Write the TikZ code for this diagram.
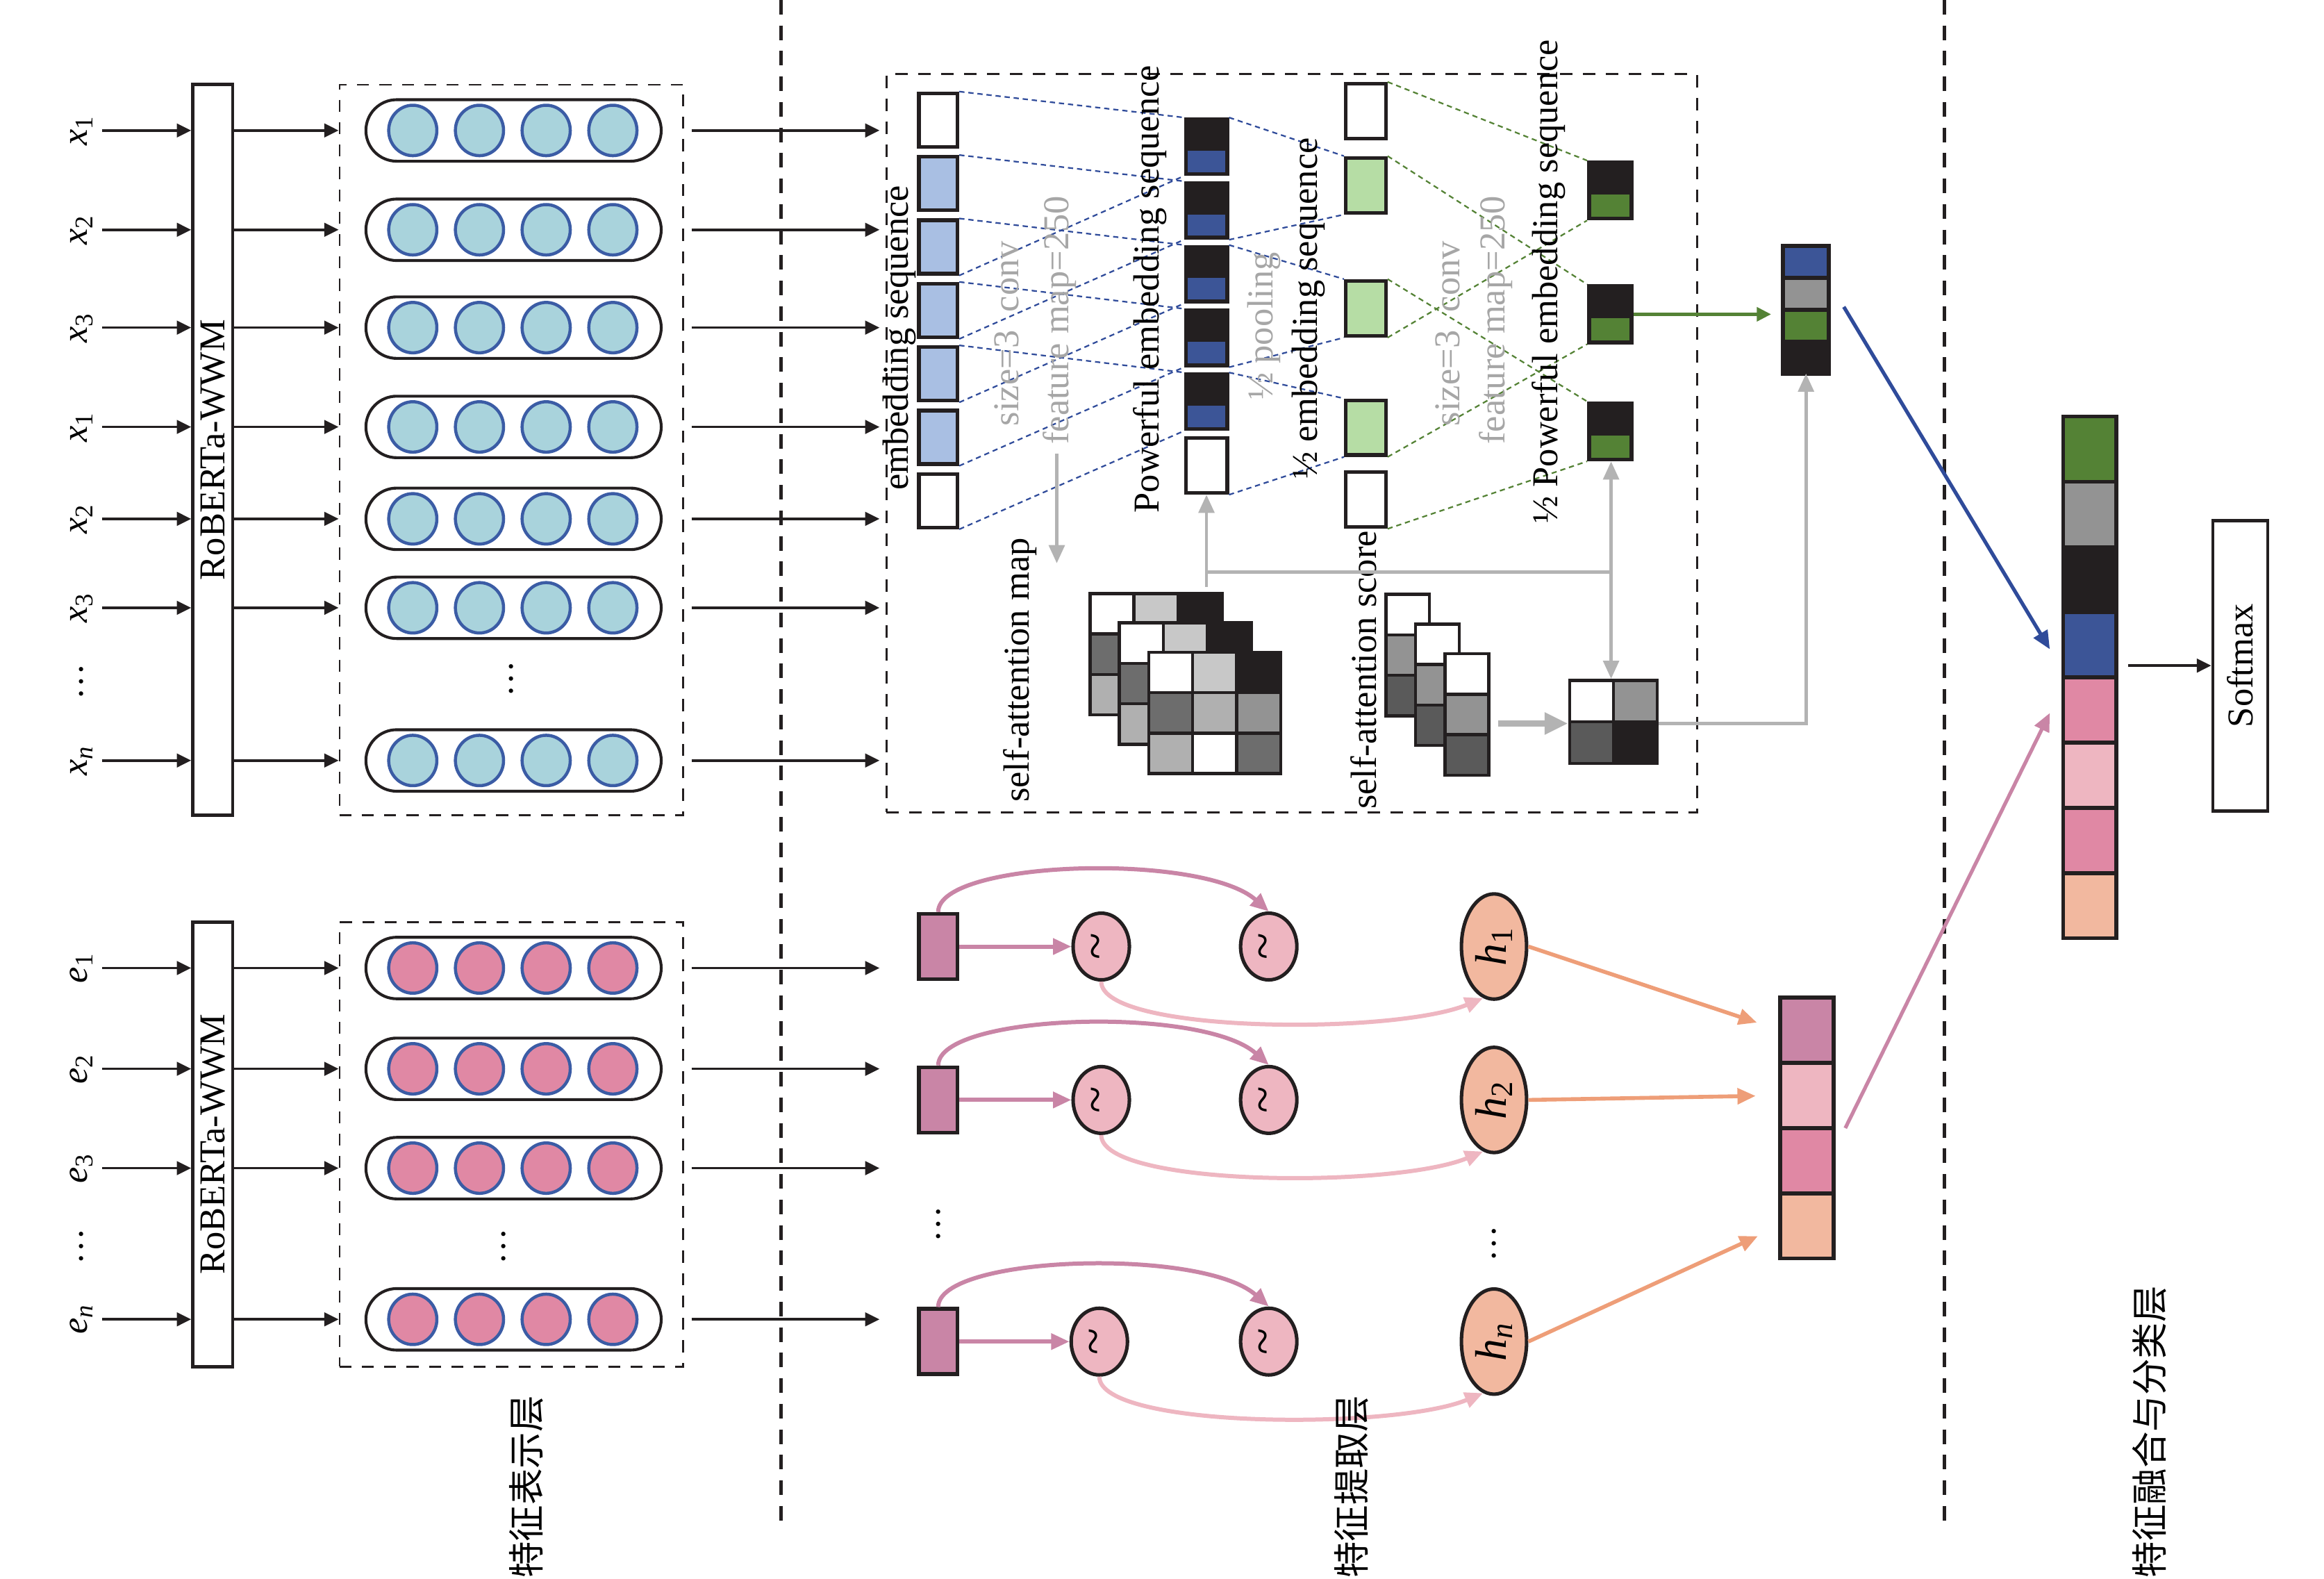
\documentclass[tikz,border=0pt]{standalone}
\usepackage{fontspec}
\setmainfont{Liberation Serif}
\newfontfamily\cjkfont{Noto Sans CJK SC}
\usepackage{tikz}
\usetikzlibrary{positioning,calc,shapes.misc,shapes.geometric,arrows.meta}

% 颜色
\definecolor{ink}{HTML}{231F20}
\definecolor{ballblue}{HTML}{A9D3DC}
\definecolor{ringblue}{HTML}{3B5CA5}
\definecolor{ballpink}{HTML}{E088A4}
\definecolor{seqblue}{HTML}{A9BFE3}
\definecolor{navy}{HTML}{3C5597}
\definecolor{leaf}{HTML}{B6DDA5}
\definecolor{moss}{HTML}{548235}
\definecolor{greyA}{HTML}{C8C8C8}
\definecolor{greyB}{HTML}{B0B0B0}
\definecolor{greyC}{HTML}{939393}
\definecolor{greyD}{HTML}{6D6D6D}
\definecolor{greyE}{HTML}{5A5A5A}
\definecolor{wiregrey}{HTML}{B3B3B3}
\definecolor{notegrey}{HTML}{A6A6A6}
\definecolor{mauve}{HTML}{C985A6}
\definecolor{blush}{HTML}{EEB6C1}
\definecolor{peach}{HTML}{F2B89F}
\definecolor{coral}{HTML}{EE9E78}
\definecolor{arrowblue}{HTML}{2F4B9A}

\newcommand{\vsub}[2]{\textit{#1}\textsubscript{#2}}

\begin{document}
\begin{tikzpicture}[
    x=0.02cm, y=-0.02cm,
    font=\fontsize{14}{16}\selectfont,
    >={Triangle[length=5.5pt,width=5.2pt]},
    sepline/.style={draw=ink, line width=1.4pt, dash pattern=on 5.6pt off 4.2pt},
    blk/.style={->, draw=ink, line width=0.95pt},
    robbox/.style={draw=ink, line width=1.2pt, minimum width=0.54cm, minimum height=#1, inner sep=0pt},
    repbox/.style={draw=ink, line width=0.65pt, dash pattern=on 4.6pt off 4pt, minimum width=4.64cm, minimum height=#1},
    middash/.style={draw=ink, line width=0.75pt, dash pattern=on 4.8pt off 4pt},
    pill/.style={rounded rectangle, draw=ink, line width=1.1pt, minimum width=4.22cm, minimum height=0.83cm},
    ball/.style={ellipse, draw=ringblue, line width=1.2pt, fill=#1, minimum width=0.65cm, minimum height=0.68cm, inner sep=0pt},
    seqbox/.style={draw=ink, line width=1.4pt, fill=#1, minimum width=0.52cm, minimum height=0.72cm, inner sep=0pt},
    halfbox/.style={draw=ink, line width=1.4pt, fill=ink, inner sep=0pt,
        path picture={\fill[#1] ([shift={(0.8pt,0.8pt)}]path picture bounding box.south west)
            rectangle ([shift={(-0.8pt,-1.5pt)}]path picture bounding box.east);}},
    bluedash/.style={draw=arrowblue, line width=0.6pt, dash pattern=on 2pt off 1.5pt},
    greendash/.style={draw=moss, line width=0.6pt, dash pattern=on 2pt off 1.5pt},
    tag/.style={rotate=90},
    greytag/.style={rotate=90, text=notegrey},
    wireline/.style={draw=wiregrey, line width=1.3pt},
    wirearrow/.style={->, draw=wiregrey, line width=1.3pt, >={Triangle[length=7pt,width=6pt]}},
    cell/.style={draw=ink, line width=1.2pt, fill=#1, minimum width=0.594cm, minimum height=0.546cm, inner sep=0pt},
    vcell/.style={draw=ink, line width=1.5pt, fill=#1, minimum width=0.72cm, minimum height=0.88cm, inner sep=0pt, outer sep=0pt},
    svcell/.style={vcell=#1, minimum width=0.62cm, minimum height=0.43cm},
    tokbox/.style={draw=ink, line width=1.5pt, fill=mauve, minimum width=0.52cm, minimum height=0.88cm, inner sep=0pt},
    tilde/.style={ellipse, draw=ink, line width=1.35pt, fill=blush, minimum width=0.76cm, minimum height=0.9cm, inner sep=0pt, font=\fontsize{19}{20}\selectfont},
    hball/.style={ellipse, draw=ink, line width=1.35pt, fill=peach, minimum width=0.88cm, minimum height=1.42cm, inner sep=0pt, font=\fontsize{17}{20}\selectfont},
    mauvearrow/.style={->, draw=mauve, line width=1.6pt, >={Triangle[length=7pt,width=6pt]}},
    blusharrow/.style={->, draw=blush, line width=1.6pt, >={Triangle[length=7pt,width=6pt]}},
    coralarrow/.style={->, draw=coral, line width=1.5pt, shorten >=0.33cm, >={Triangle[length=7pt,width=6pt]}},
    cjk/.style={rotate=90, font=\cjkfont\fontsize{14}{16}\selectfont}
]
\useasboundingbox (0,0) rectangle (1568,1065);

% 分隔线
\draw[sepline] (527,0) -- (527,1030);
\draw[sepline] (1312,0) -- (1312,1030);

% 特征表示层：上半部分
\node[robbox=9.86cm] (rob1) at (143.5,303.5) {\rotatebox{90}{RoBERTa-WWM}};
\node[repbox=9.86cm] (rep1) at (345,303.5) {};
\node[middash, minimum width=10.94cm, minimum height=9.96cm] (mid) at (871.5,299) {};

\foreach \y/\s [count=\n] in {88/1,155/2,221/3,288/1,350/2,410/3,513/\textit{n}} {
  \node (xl\n) at (55,\y) {\rotatebox{90}{\vsub{x}{\s}}};
  \node[pill] (xp\n) at (346.5,\y) {};
  \foreach \k in {1,...,4}
    \node[ball=ballblue] (xp\n-\k) at (233.5+45*\k,\y) {};
  \draw[blk] (xl\n.east) -- (xl\n.east -| rob1.west);
  \draw[blk] (rob1.east |- xp\n) -- (rep1.west |- xp\n);
  \draw[blk, shorten <=0.1cm, shorten >=0.08cm] (rep1.east |- xp\n) -- (mid.west |- xp\n);
}
\node (xdots) at (55,460) {\rotatebox{90}{\dots}};
\node (pdots) at (345,458) {\rotatebox{90}{\dots}};

% 特征表示层：下半部分
\node[robbox=6cm] (rob2) at (143.5,772) {\rotatebox{90}{RoBERTa-WWM}};
\node[repbox=6cm] (rep2) at (345,772) {};

\foreach \y/\s [count=\n] in {653/1,721/2,788/3,890/\textit{n}} {
  \node (el\n) at (55,\y) {\rotatebox{90}{\vsub{e}{\s}}};
  \node[pill] (ep\n) at (346.5,\y) {};
  \foreach \k in {1,...,4}
    \node[ball=ballpink] (ep\n-\k) at (233.5+45*\k,\y) {};
  \draw[blk] (el\n.east) -- (el\n.east -| rob2.west);
  \draw[blk] (rob2.east |- ep\n) -- (rep2.west |- ep\n);
  \draw[blk, shorten <=0.1cm, shorten >=0.08cm] (rep2.east |- ep\n) -- (mid.west |- ep\n);
}
\node (edots) at (55,841) {\rotatebox{90}{\dots}};
\node (qdots) at (340,841) {\rotatebox{90}{\dots}};

% 卷积与池化
\foreach \c [count=\i] in {white,seqblue,seqblue,seqblue,seqblue,seqblue,white}
  \node[seqbox=\c] (e\i) at (633,81+42.8*\i-42.8) {};
\foreach \i in {1,...,5}
  \node[halfbox=navy, minimum width=0.56cm, minimum height=0.74cm] (p\i) at (814,99+43*\i-43) {};
\node[seqbox=white, minimum width=0.56cm, minimum height=0.74cm] (p6) at (814,314) {};
\foreach \y/\c [count=\i] in {75/white,125/leaf,208/leaf,288.5/leaf,337/white}
  \node[seqbox=\c, minimum width=0.54cm, minimum height=0.74cm] (q\i) at (921.5,\y) {};
\foreach \y [count=\i] in {128.5,212,291}
  \node[halfbox=moss, minimum width=0.58cm, minimum height=0.76cm] (r\i) at (1086.5,\y) {};

\foreach \i [evaluate=\i as \j using int(\i+2)] in {1,...,5} {
  \draw[bluedash] (e\i.north east) -- (p\i.north west);
  \draw[bluedash] (e\j.south east) -- (p\i.south west);
}
\foreach \k/\a/\b in {2/1/2,3/3/4,4/5/6} {
  \draw[bluedash] (p\a.north east) -- (q\k.north west);
  \draw[bluedash] (p\b.south east) -- (q\k.south west);
}
\foreach \j/\a/\b in {1/1/3,2/2/4,3/3/5} {
  \draw[greendash] (q\a.north east) -- (r\j.north west);
  \draw[greendash] (q\b.south east) -- (r\j.south west);
}

\node[tag] (lab1) at (607,228) {embedding sequence};
\node[tag] (lab2) at (776,195) {Powerful embedding sequence};
\node[tag] (lab3) at (883,208) {½ embedding sequence};
\node[tag] (lab4) at (1045,190) {½ Powerful embedding sequence};
\node[greytag] (cv1) at (679,225) {size=3\ \ conv};
\node[greytag] (fm1) at (715,216) {feature map=250};
\node[greytag] (pl1) at (853,220) {½ pooling};
\node[greytag] (cv2) at (977,225) {size=3\ \ conv};
\node[greytag] (fm2) at (1009,216) {feature map=250};
\node[tag] (sam) at (688,452) {self-attention map};
\node[tag] (sas) at (920,452) {self-attention score};

% 自注意力
\foreach \k/\d in {1/39.6,2/19.8,3/0}
  \foreach \cl [count=\n from 0] in {white,greyA,ink,greyD,greyB,greyC,greyB,white,greyD} {
    \pgfmathtruncatemacro\row{\n/3}
    \pgfmathtruncatemacro\col{\n-3*\row}
    \node[cell=\cl] (m\k-\row\col) at (789.85-\d+29.7*\col,453.65-\d+27.3*\row) {};
  }
\foreach \k/\d in {1/40,2/20,3/0}
  \foreach \cl [count=\n from 0] in {white,greyC,greyE}
    \node[cell=\cl, minimum width=0.59cm] (sc\k-\n) at (989.75-\d,454.65-\d+27.3*\n) {};
\foreach \cl/\nm/\px/\py in {white/s11/1073.75/473,greyC/s12/1103.25/473,greyE/s21/1073.75/501,ink/s22/1103.25/501}
  \node[cell=\cl, minimum width=0.59cm, minimum height=0.56cm] (\nm) at (\px,\py) {};

% 融合向量
\node[svcell=navy] (v1) at (1218.5,176.75) {};
\node[svcell=greyC, below=0pt of v1] (v2) {};
\node[svcell=moss, below=0pt of v2] (v3) {};
\node[svcell=ink, below=0pt of v3] (v4) {};

% 灰色连线
\coordinate (samtip) at (713,380);
\coordinate (jn) at (1087,386);
\coordinate (gtop) at (812,396);
\draw[wirearrow] (samtip |- fm1.west) -- (samtip);
\draw[wirearrow] (p6.south |- gtop) -- (p6.south);
\draw[wireline] (p6.south |- jn) -- (jn);
\draw[wirearrow] (jn) -- (jn |- r3.south);
\draw[wirearrow] (jn) -- (jn |- s11.north);
\draw[wirearrow, line width=2.2pt, shorten <=3pt, >={Triangle[length=9pt,width=8pt]}] (sc3-1.east |- s11.south west) -- (s11.south west);
\draw[wirearrow] (s12.south east) -- (s12.south east -| v4.south) -- (v4.south);
\draw[->, draw=moss, line width=1.4pt, shorten >=0.16cm] (r2.east) -- (r2.east -| v1.west);

% 特征提取层：下半部分
\foreach \y/\s/\ax [count=\n] in {638.5/1/743,742/2/743,905/\textit{n}/741.7} {
  \node[tokbox] (t\n) at (633,\y) {};
  \node[tilde] (a\n) at (\ax,\y) {\rotatebox{90}{\textasciitilde}};
  \node[tilde] (b\n) at (856,\y) {\rotatebox{90}{\textasciitilde}};
  \node[hball] (h\n) at (1008,\y) {\rotatebox{90}{\vsub{h}{\s}}};
  \draw[mauvearrow] (t\n.east) -- (a\n.west);
  \draw[mauvearrow] (t\n.north) .. controls +(0,-35) and +(-45,-40) .. (b\n.north);
  \draw[blusharrow] (a\n.south) .. controls +(0,35) and +(-60,25) .. (h\n.258);
}
\node (tdots) at (633,826) {\rotatebox{90}{\dots}};
\node (hdots) at (1008,839) {\rotatebox{90}{\dots}};

\node[vcell=mauve] (c1) at (1219,695) {};
\node[vcell=blush, below=0pt of c1] (c2) {};
\node[vcell=ballpink, below=0pt of c2] (c3) {};
\node[vcell=peach, below=0pt of c3] (c4) {};
\draw[coralarrow] (h1.east) -- (c1.west);
\draw[coralarrow] (h2.east) -- (c2.west);
\draw[coralarrow] (h3.east) -- (c4.west);

% 特征融合与分类层
\node[vcell=moss] (f1) at (1410,303) {};
\foreach \c [count=\i from 2, evaluate=\i as \h using int(\i-1)] in {greyC,ink,navy,ballpink,blush,ballpink,peach}
  \node[vcell=\c, below=0pt of f\h] (f\i) {};
\node[draw=ink, line width=1.3pt, minimum width=0.74cm, minimum height=3.92cm, inner sep=0pt] (soft) at (1511.5,449) {\rotatebox{90}{Softmax}};

\draw[->, draw=arrowblue, line width=1.4pt, >={Triangle[length=7pt,width=6pt]}] ($(v2.south east)+(10,-2)$) -- ($(f4.west)+(-9,3)$);
\draw[->, draw=mauve, line width=1.4pt, >={Triangle[length=7pt,width=6pt]}] ($(c2.south east)+(8,0)$) -- ($(f5.west)+(-9,2)$);
\draw[blk, shorten <=0.16cm] (soft.west -| f4.east) -- (soft.west);

% 层名
\node[cjk] (layer1) at (355,1003) {特征表示层};
\node[cjk] (layer2) at (912,1003) {特征提取层};
\node[cjk] (layer3) at (1450,966) {特征融合与分类层};

\end{tikzpicture}
\end{document}
